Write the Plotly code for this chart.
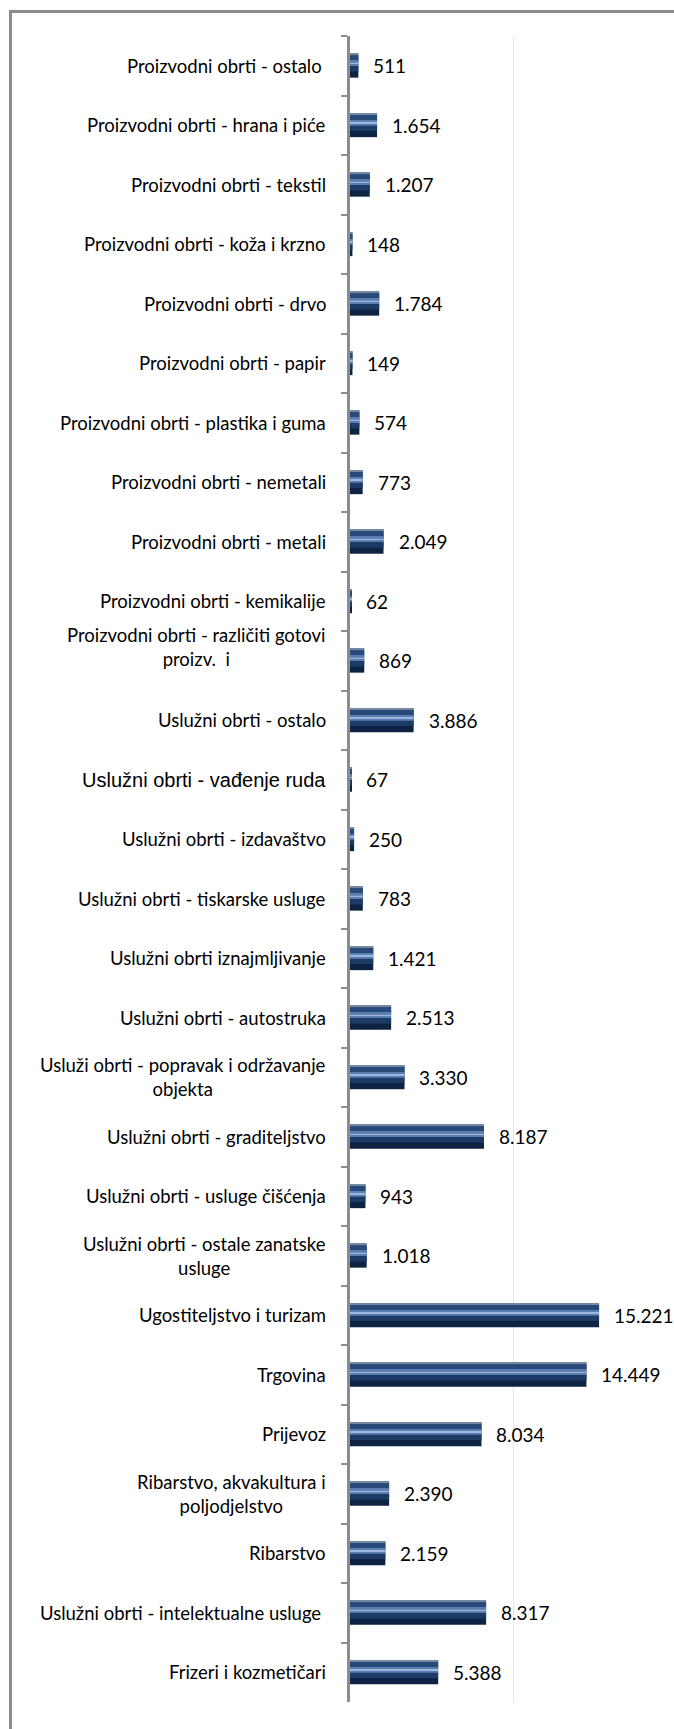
import plotly.graph_objects as go

categories = [
    "Proizvodni obrti - ostalo ",
    "Proizvodni obrti - hrana i piće",
    "Proizvodni obrti - tekstil",
    "Proizvodni obrti - koža i krzno",
    "Proizvodni obrti - drvo",
    "Proizvodni obrti - papir",
    "Proizvodni obrti - plastika i guma",
    "Proizvodni obrti - nemetali",
    "Proizvodni obrti - metali",
    "Proizvodni obrti - kemikalije",
    "Proizvodni obrti - različiti gotovi<br>proizv.  i",
    "Uslužni obrti - ostalo",
    "Uslužni obrti - vađenje ruda",
    "Uslužni obrti - izdavaštvo",
    "Uslužni obrti - tiskarske usluge",
    "Uslužni obrti iznajmljivanje",
    "Uslužni obrti - autostruka",
    "Usluži obrti - popravak i održavanje<br>objekta",
    "Uslužni obrti - graditeljstvo",
    "Uslužni obrti - usluge čišćenja",
    "Uslužni obrti - ostale zanatske<br>usluge",
    "Ugostiteljstvo i turizam",
    "Trgovina",
    "Prijevoz",
    "Ribarstvo, akvakultura i<br>poljodjelstvo",
    "Ribarstvo",
    "Uslužni obrti - intelektualne usluge ",
    "Frizeri i kozmetičari",
]

values = [511, 1654, 1207, 148, 1784, 149, 574, 773, 2049, 62, 869, 3886, 67, 250,
          783, 1421, 2513, 3330, 8187, 943, 1018, 15221, 14449, 8034, 2390, 2159,
          8317, 5388]

value_labels = [f"{v:,}".replace(",", ".") for v in values]

FONT = "Lato"
BAR_W = 0.40
# (top fraction, bottom fraction, colour) layers giving a cylinder-like shading
layers = [
    (0.00, 1.00, "#0e2342"),
    (0.00, 0.07, "#7588a3"),
    (0.07, 0.30, "#284a7a"),
    (0.30, 0.36, "#5a7eb2"),
    (0.36, 0.46, "#9cb8de"),
    (0.46, 0.52, "#5a7eb2"),
    (0.52, 0.74, "#1d3b67"),
]

fig = go.Figure()
for f0, f1, col in layers:
    fig.add_trace(go.Bar(
        x=values, y=categories, orientation="h",
        width=(f1 - f0) * BAR_W, offset=-BAR_W / 2 + f0 * BAR_W,
        marker=dict(color=col, line=dict(width=0)),
        hoverinfo="skip", showlegend=False,
    ))

annotations = []
for cat, v, lab in zip(categories, values, value_labels):
    if "vađenje" in cat:
        fnt, fsz = "Liberation Sans", 20
    else:
        fnt, fsz = FONT, 18.5
    ysh = 14 if "gotovi" in cat else 0
    annotations.append(dict(
        x=0, y=cat, xref="x", yref="y", text=cat, showarrow=False,
        xanchor="right", yanchor="middle", align="center", xshift=-22, yshift=ysh,
        font=dict(family=fnt, size=fsz, color="#000000"),
    ))
    annotations.append(dict(
        x=v, y=cat, xref="x", yref="y", text=lab, showarrow=False,
        xanchor="left", yanchor="middle", xshift=13,
        font=dict(family=FONT, size=19, color="#000000"),
    ))

fig.update_layout(
    width=674, height=1729,
    margin=dict(l=350, r=0, t=36, b=27),
    paper_bgcolor="white", plot_bgcolor="white",
    barmode="overlay", showlegend=False,
    annotations=annotations,
    shapes=[dict(
        type="rect", xref="paper", yref="paper",
        x0=-1.0478, x1=1.3, y0=-0.2, y1=1.0147,
        line=dict(color="#8c8c8c", width=3), fillcolor="rgba(0,0,0,0)",
        layer="above",
    )],
    xaxis=dict(range=[0, 19800], tick0=0, dtick=10000, showgrid=True,
               gridcolor="#e6e6e6", gridwidth=1, zeroline=False,
               showticklabels=False, showline=False, ticks=""),
    yaxis=dict(type="category", categoryorder="array", categoryarray=categories,
               range=[len(categories) - 0.5, -0.5], tickson="boundaries",
               ticks="outside", ticklen=6, tickwidth=2, tickcolor="#8c8c8c",
               showline=True, linewidth=3, linecolor="#8c8c8c",
               showticklabels=False, showgrid=False, zeroline=False),
)

fig.write_html(
    "out.html",
    config={"displayModeBar": False},
    post_script="document.body.style.margin='0';document.body.style.overflow='hidden';",
)
